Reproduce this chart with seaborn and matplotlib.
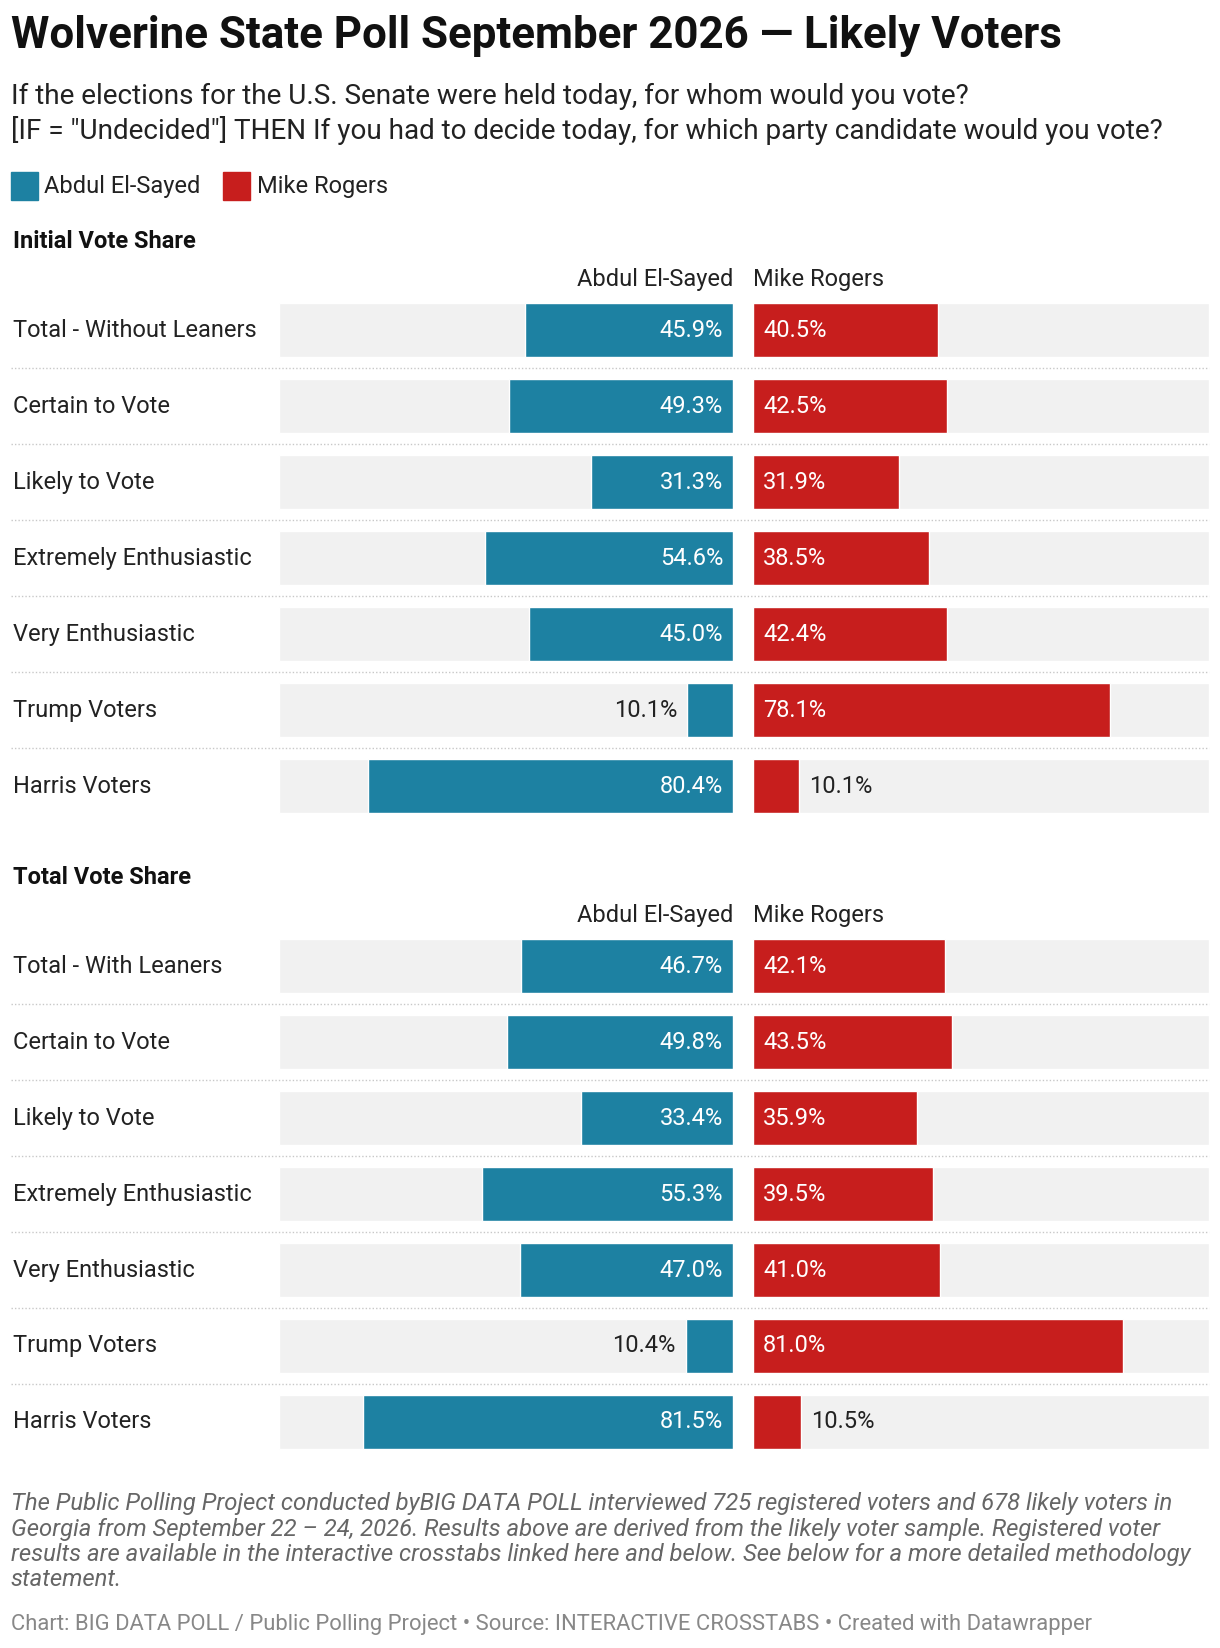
import matplotlib
matplotlib.use("Agg")
import matplotlib.pyplot as plt
import seaborn as sns
import pandas as pd
from matplotlib.patches import Rectangle
from matplotlib.lines import Line2D

sns.set_style("white")
plt.rcParams['font.family'] = ['Roboto', 'DejaVu Sans']

# data
groups1 = ["Total - Without Leaners", "Certain to Vote", "Likely to Vote", "Extremely Enthusiastic",
           "Very Enthusiastic", "Trump Voters", "Harris Voters"]
sayed1 = [45.9, 49.3, 31.3, 54.6, 45.0, 10.1, 80.4]
rogers1 = [40.5, 42.5, 31.9, 38.5, 42.4, 78.1, 10.1]
groups2 = ["Total - With Leaners", "Certain to Vote", "Likely to Vote", "Extremely Enthusiastic",
           "Very Enthusiastic", "Trump Voters", "Harris Voters"]
sayed2 = [46.7, 49.8, 33.4, 55.3, 47.0, 10.4, 81.5]
rogers2 = [42.1, 43.5, 35.9, 39.5, 41.0, 81.0, 10.5]

BLUE = "#1d81a2"
RED = "#c71e1d"
BG = "#f1f1f1"
W, H = 1160, 1568  # layout reference units
FS = 17

fig = plt.figure(figsize=(12.2, 16.48), dpi=100)


def fx(x):
    return x / W


def fy(y):
    return 1 - y / H


def panel(x0, x1, y0, y1, groups, vals, color, side):
    ax = fig.add_axes([fx(x0), fy(y1), fx(x1) - fx(x0), fy(y0) - fy(y1)])
    df = pd.DataFrame({"g": groups, "v": vals, "bg": [100] * len(groups)})
    sns.barplot(data=df, y="g", x="bg", color=BG, width=0.705, ax=ax, saturation=1)
    sns.barplot(data=df, y="g", x="v", color=color, width=0.705, ax=ax, saturation=1)
    ax.set_xlim(0, 100)
    if side == "left":
        ax.invert_xaxis()
    ax.set_ylim(len(groups) - 0.5, -0.5)
    ax.axis("off")
    for i, v in enumerate(vals):
        off = 2.2
        lab = f"{v:.1f}%"
        if v > 15:
            ax.text(off, i, lab, ha="right" if side == "left" else "left", va="center",
                    color="white", fontsize=FS)
        else:
            ax.text(v + off, i, lab, ha="right" if side == "left" else "left", va="center",
                    color="#222", fontsize=FS)
    return ax


def section(top, groups, sayed, rogers):
    step = 72.3
    fig.text(fx(697), fy(top - 12), "Abdul El-Sayed", ha="right", va="center", fontsize=FS, color="#222")
    fig.text(fx(716), fy(top - 12), "Mike Rogers", ha="left", va="center", fontsize=FS, color="#222")
    bottom = top + step * len(groups)
    panel(265, 697, top, bottom, groups, sayed, BLUE, "left")
    panel(716, 1150, top, bottom, groups, rogers, RED, "right")
    for i, g in enumerate(groups):
        yc = top + step * (i + 0.5)
        fig.text(fx(12), fy(yc), g, ha="left", va="center", fontsize=FS, color="#222")
        if i < len(groups) - 1:
            ys = top + step * (i + 1)
            fig.add_artist(Line2D([fx(10), fx(1150)], [fy(ys), fy(ys)], color="#c8c8c8",
                                  linestyle=(0, (1, 1.5)), linewidth=1))


fig.text(fx(10), fy(34), "Wolverine State Poll September 2026 \u2014 Likely Voters",
         fontsize=31.6, fontweight="bold", va="center", color="#111")
fig.text(fx(10), fy(92), "If the elections for the U.S. Senate were held today, for whom would you vote?",
         fontsize=20.1, va="center", color="#222")
fig.text(fx(10), fy(124), '[IF = "Undecided"] THEN If you had to decide today, for which party candidate would you vote?',
         fontsize=20.1, va="center", color="#222")

# legend
for x, c, lab in [(10, BLUE, "Abdul El-Sayed"), (212, RED, "Mike Rogers")]:
    fig.add_artist(Rectangle((fx(x), fy(190)), fx(26), fy(164) - fy(190), color=c,
                             transform=fig.transFigure))
    fig.text(fx(x + 32), fy(177), lab, fontsize=FS, va="center", color="#222")

fig.text(fx(12), fy(230), "Initial Vote Share", fontsize=FS, fontweight="bold", va="center", color="#111")
section(278, groups1, sayed1, rogers1)
fig.text(fx(12), fy(835), "Total Vote Share", fontsize=FS, fontweight="bold", va="center", color="#111")
section(883, groups2, sayed2, rogers2)

foot = ("The Public Polling Project conducted byBIG DATA POLL interviewed 725 registered voters and 678 likely voters in\n"
        "Georgia from September 22 \u2013 24, 2026. Results above are derived from the likely voter sample. Registered voter\n"
        "results are available in the interactive crosstabs linked here and below. See below for a more detailed methodology\n"
        "statement.")
fig.text(fx(10), fy(1420), foot, fontsize=17.2, style="italic", va="top", color="#666", linespacing=1.13)
fig.text(fx(10), fy(1546), "Chart: BIG DATA POLL / Public Polling Project \u2022 Source: INTERACTIVE CROSSTABS \u2022 Created with Datawrapper",
         fontsize=15.8, va="center", color="#888")

fig.savefig("out.png", dpi=100, facecolor="white")
